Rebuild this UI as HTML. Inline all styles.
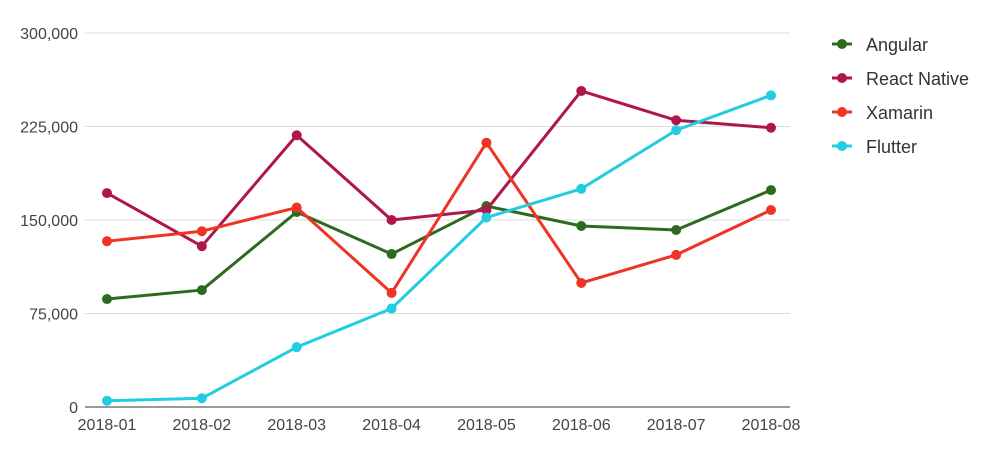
<!DOCTYPE html>
<html><head><meta charset="utf-8"><style>
body{margin:0;background:#fff;font-family:"Liberation Sans",Arial,sans-serif}
svg text{font-family:"Liberation Sans",Arial,sans-serif}
</style></head><body>
<svg id="chart" width="997" height="463" viewBox="0 0 997 463" xmlns="http://www.w3.org/2000/svg"></svg>
<script>
const categories=["2018-01","2018-02","2018-03","2018-04","2018-05","2018-06","2018-07","2018-08"];
const yTicks=[0,75000,150000,225000,300000];
const yTickLabels=["0","75,000","150,000","225,000","300,000"];
const seriesNames=["Angular","React Native","Xamarin","Flutter"];
const seriesColors=["#2d6a1f","#b0164e","#ee3424","#22cde0"];
const angular=[86600,93800,156400,122700,161200,145200,142000,174000];
const reactNative=[171600,129000,218000,150000,158000,253500,230000,224000];
const xamarin=[133000,141000,160000,91500,212000,99500,122000,158000];
const flutter=[5000,7000,48000,79000,152000,175000,222000,250000];
const seriesValues=[angular,reactNative,xamarin,flutter];

const svg=document.getElementById('chart');
const NS="http://www.w3.org/2000/svg";
const x0=107,x1=771,yBase=407,yTop=33,yMax=300000;
const xs=i=>x0+(x1-x0)*i/(categories.length-1);
const ys=v=>yBase-(yBase-yTop)*v/yMax;
function mk(tag,attrs,parent){const e=document.createElementNS(NS,tag);for(const k in attrs)e.setAttribute(k,attrs[k]);(parent||svg).appendChild(e);return e;}

yTicks.forEach((t,i)=>{
  const g=mk('line',{x1:85,x2:790,y1:ys(t),y2:ys(t),stroke:i===0?'#333':'#ddd','stroke-width':1});
  
  
  const tx=mk('text',{x:78,y:ys(t)+6,'text-anchor':'end','font-size':16,fill:'#444'});
  tx.textContent=yTickLabels[i];
  
  
});
categories.forEach((c,i)=>{
  const tx=mk('text',{x:xs(i),y:430,'text-anchor':'middle','font-size':16,fill:'#444'});
  tx.textContent=c;
  
  
});
seriesValues.forEach((vals,s)=>{
  const g=mk('g',{});
  
  
  const pts=vals.map((v,i)=>xs(i)+','+ys(v)).join(' ');
  const pl=mk('polyline',{points:pts,fill:'none',stroke:seriesColors[s],'stroke-width':3,'stroke-linejoin':'round'},g);
  
  
  vals.forEach((v,i)=>{
    const c=mk('circle',{cx:xs(i),cy:ys(v),r:5,fill:seriesColors[s]},g);
    
    
  });
  const lg=mk('g',{});
  
  
  const ly=44+34*s;
  mk('line',{x1:832,x2:852,y1:ly,y2:ly,stroke:seriesColors[s],'stroke-width':3},lg);
  mk('circle',{cx:842,cy:ly,r:5,fill:seriesColors[s]},lg);
  const t=mk('text',{x:866,y:ly+7,'font-size':18,fill:'#333'},lg);
  t.textContent=seriesNames[s];
});
</script>
</body></html>
